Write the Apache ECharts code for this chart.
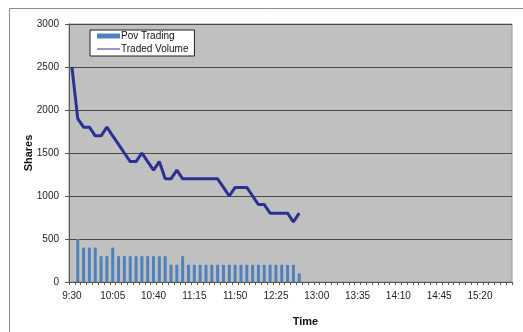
<!DOCTYPE html>
<html>
<head>
<meta charset="utf-8">
<script src="https://cdn.jsdelivr.net/npm/echarts@6/dist/echarts.min.js"></script>
<style>
  html, body { margin: 0; padding: 0; background: #fff; }
  #chart { width: 523px; height: 332px; }
</style>
</head>
<body>
<div id="chart"></div>
<script>
  // 5 minute buckets, 9:30 to 15:45
  var times = [
    '9:30', '9:35', '9:40', '9:45', '9:50', '9:55', '10:00', '10:05', '10:10', '10:15',
    '10:20', '10:25', '10:30', '10:35', '10:40', '10:45', '10:50', '10:55', '11:00', '11:05',
    '11:10', '11:15', '11:20', '11:25', '11:30', '11:35', '11:40', '11:45', '11:50', '11:55',
    '12:00', '12:05', '12:10', '12:15', '12:20', '12:25', '12:30', '12:35', '12:40', '12:45',
    '12:50', '12:55', '13:00', '13:05', '13:10', '13:15', '13:20', '13:25', '13:30', '13:35',
    '13:40', '13:45', '13:50', '13:55', '14:00', '14:05', '14:10', '14:15', '14:20', '14:25',
    '14:30', '14:35', '14:40', '14:45', '14:50', '14:55', '15:00', '15:05', '15:10', '15:15',
    '15:20', '15:25', '15:30', '15:35', '15:40', '15:45'
  ];

  var povTrading = [
    null, 500, 400, 400, 400, 300, 300, 400, 300, 300,
    300, 300, 300, 300, 300, 300, 300, 200, 200, 300,
    200, 200, 200, 200, 200, 200, 200, 200, 200, 200,
    200, 200, 200, 200, 200, 200, 200, 200, 200, 100
  ];

  var tradedVolume = [
    2500, 1900, 1800, 1800, 1700, 1700, 1800, 1700, 1600, 1500,
    1400, 1400, 1500, 1400, 1300, 1400, 1200, 1200, 1300, 1200,
    1200, 1200, 1200, 1200, 1200, 1200, 1100, 1000, 1100, 1100,
    1100, 1000, 900, 900, 800, 800, 800, 800, 700, 800
  ];

  var shareTicks = [0, 500, 1000, 1500, 2000, 2500, 3000];

  var chart = echarts.init(document.getElementById('chart'));
  var font = 'Liberation Sans, Arial, sans-serif';

  chart.setOption({
    animation: false,
    textStyle: { fontFamily: font },
    graphic: [{
      type: 'rect',
      shape: { x: 9.5, y: 8.5, width: 600, height: 400 },
      style: { fill: null, stroke: '#8c8c8c', lineWidth: 1 },
      silent: true,
      z: -10
    }],
    grid: {
      left: 69, right: 11, top: 24, bottom: 48,
      show: true,
      backgroundColor: '#c0c0c0',
      borderColor: '#9a9a9a',
      borderWidth: 1
    },
    legend: {
      orient: 'vertical',
      left: 90,
      top: 30,
      padding: [1, 6, 2, 7],
      itemGap: 3,
      itemWidth: 23,
      itemHeight: 5,
      backgroundColor: '#fff',
      borderColor: '#222',
      borderWidth: 1,
      borderRadius: 0,
      textStyle: { fontSize: 10, color: '#111', fontFamily: font, padding: [0, 0, 0, -4] },
      data: [
        { name: 'Pov Trading', icon: 'rect' },
        { name: 'Traded Volume', icon: 'path://M0,0H23V1H0Z', lineStyle: { width: 1.5 } }
      ]
    },
    xAxis: {
      type: 'category',
      data: times,
      boundaryGap: true,
      name: 'Time',
      nameLocation: 'middle',
      nameGap: 34,
      nameTextStyle: { fontSize: 11, fontWeight: 'bold', color: '#111', padding: [0, 0, 0, 30] },
      axisLine: { show: true, lineStyle: { color: '#555', width: 1 } },
      axisTick: { show: true, interval: 0, length: 3, lineStyle: { color: '#555' } },
      axisLabel: { interval: 6, fontSize: 10, color: '#222', margin: 9 },
      splitLine: { show: false }
    },
    yAxis: {
      type: 'value',
      min: 0,
      max: 3000,
      interval: 500,
      name: 'Shares',
      nameLocation: 'middle',
      nameGap: 35,
      nameMoveOverlap: false,
      nameTextStyle: { fontSize: 11, fontWeight: 'bold', color: '#111' },
      axisLine: { show: true, lineStyle: { color: '#555', width: 1 } },
      axisTick: { show: true, length: 4, lineStyle: { color: '#555' } },
      axisLabel: {
        fontSize: 10, color: '#222', margin: 10,
        formatter: function (v) { return shareTicks.indexOf(v) >= 0 ? String(v) : ''; }
      },
      splitLine: { show: true, lineStyle: { color: '#4a4a4a', width: 1 } }
    },
    series: [
      {
        name: 'Pov Trading',
        type: 'bar',
        data: povTrading,
        barWidth: 3,
        itemStyle: { color: '#4f81bd' }
      },
      {
        name: 'Traded Volume',
        type: 'line',
        data: tradedVolume,
        symbol: 'none',
        showSymbol: false,
        lineStyle: { color: '#2b3192', width: 3 },
        itemStyle: { color: '#2b3192' }
      }
    ]
  });
</script>
</body>
</html>
